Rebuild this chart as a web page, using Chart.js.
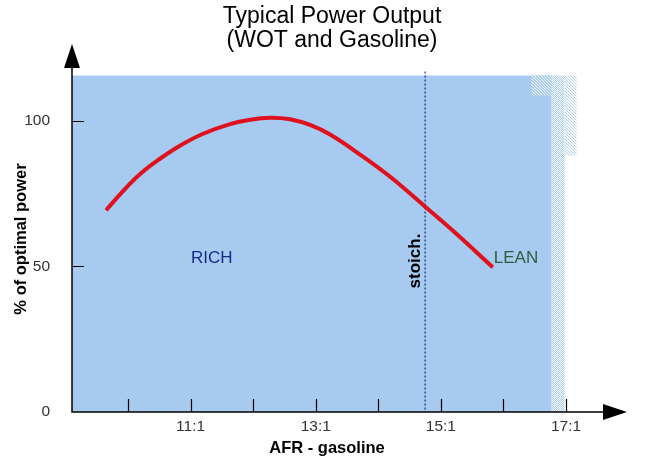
<!DOCTYPE html>
<html>
<head>
<meta charset="utf-8">
<script src="https://cdn.jsdelivr.net/npm/chart.js@4.4.1/dist/chart.umd.min.js"></script>
<style>
  html, body { margin: 0; padding: 0; background: #fff; }
  #wrap { width: 649px; height: 458px; }
</style>
</head>
<body>
<div id="wrap"><canvas id="powerChart" width="649" height="458"></canvas></div>
<script>
// ── Data ──────────────────────────────────────────────────────
const afr   = [9.65, 9.92, 10.19, 10.51, 10.83, 11.20, 11.63, 11.95, 12.27, 12.59, 12.91, 13.23, 13.75, 14.19, 14.74, 15.26, 15.83];
const power = [69.3, 75.9, 81.7, 87.0, 91.5, 95.6, 98.9, 100.4, 101.1, 100.6, 98.6, 95.3, 87.8, 80.8, 70.7, 61.0, 49.7];

const xTicks      = [10, 11, 12, 13, 14, 15, 16, 17];
const xTickLabels = ['', '11:1', '', '13:1', '', '15:1', '', '17:1'];
const yTicks      = [0, 50, 100];

const STOICH   = 14.74;
const LEAN_END = 16.77;   // end of the solid blue field
const FONT = '"Liberation Sans", Arial, sans-serif';

// ── Helpers ──────────────────────────────────────────────────
// small diagonal dither pattern: dots of c2 on c1
function dither(c1, c2, n) {
  const p = document.createElement('canvas');
  p.width = n; p.height = n;
  const g = p.getContext('2d');
  g.fillStyle = c1; g.fillRect(0, 0, n, n);
  g.fillStyle = c2;
  for (let i = 0; i < n; i++) g.fillRect(i, i, 1, 1);
  return g.createPattern(p, 'repeat');
}

// ── Background field (drawn under the curve) ──────────────────
const fieldPlugin = {
  id: 'field',
  beforeDatasetsDraw(chart) {
    const { ctx, chartArea: a, scales: { x } } = chart;
    const xe = x.getPixelForValue(LEAN_END);
    ctx.save();
    ctx.fillStyle = '#a6caf0';
    ctx.fillRect(a.left, a.top, xe - a.left, a.bottom - a.top);
    // dithered fringe at the lean end
    ctx.fillStyle = dither('#a6caf0', '#ffffff', 2);
    ctx.fillRect(xe, a.top, 13, a.bottom - a.top);
    ctx.fillStyle = dither('#ffffff', '#a6caf0', 3);
    ctx.fillRect(xe + 13, a.top, 12, 80);
    ctx.fillStyle = dither('#a6caf0', '#ffffff', 3);
    ctx.fillRect(xe - 20, a.top, 20, 20);
    // stoich. marker
    const xs = x.getPixelForValue(STOICH);
    ctx.strokeStyle = '#000066';
    ctx.lineWidth = 1;
    ctx.setLineDash([2, 2]);
    ctx.beginPath();
    ctx.moveTo(xs + 0.5, a.top - 4);
    ctx.lineTo(xs + 0.5, a.bottom);
    ctx.stroke();
    ctx.restore();
  }
};

// ── Axes, arrows, titles and labels ──────────────────────────
const decorPlugin = {
  id: 'decor',
  afterDraw(chart) {
    const { ctx, chartArea: a, scales: { x, y } } = chart;
    ctx.save();
    ctx.strokeStyle = '#000';
    ctx.fillStyle = '#000';
    ctx.lineWidth = 1.5;

    // axis lines
    ctx.beginPath();
    ctx.moveTo(a.left, 68); ctx.lineTo(a.left, a.bottom);
    ctx.lineTo(604, a.bottom);
    ctx.stroke();

    // arrow heads
    ctx.beginPath();
    ctx.moveTo(a.left - 8, 68); ctx.lineTo(a.left, 44); ctx.lineTo(a.left + 8, 68);
    ctx.closePath(); ctx.fill();
    ctx.beginPath();
    ctx.moveTo(603, a.bottom - 8); ctx.lineTo(627, a.bottom); ctx.lineTo(603, a.bottom + 8);
    ctx.closePath(); ctx.fill();

    // inside tick marks
    ctx.lineWidth = 1.2;
    ctx.beginPath();
    xTicks.forEach(v => {
      const px = Math.round(x.getPixelForValue(v)) + 0.5;
      ctx.moveTo(px, a.bottom); ctx.lineTo(px, a.bottom - 13);
    });
    yTicks.slice(1).forEach(v => {
      const py = Math.round(y.getPixelForValue(v)) + 0.5;
      ctx.moveTo(a.left, py); ctx.lineTo(a.left + 12, py);
    });
    ctx.stroke();

    // title
    ctx.textAlign = 'center';
    ctx.textBaseline = 'alphabetic';
    ctx.font = '23px ' + FONT;
    ctx.fillText('Typical Power Output', 332, 23);
    ctx.fillText('(WOT and Gasoline)', 332, 47);

    // axis titles
    ctx.font = 'bold 16.5px ' + FONT;
    ctx.fillText('AFR - gasoline', 327, 453);
    ctx.save();
    ctx.translate(26, 239);
    ctx.rotate(-Math.PI / 2);
    ctx.fillText('% of optimal power', 0, 0);
    ctx.restore();

    // region labels
    ctx.font = '17px ' + FONT;
    ctx.fillStyle = '#1a2a8c';
    ctx.fillText('RICH', x.getPixelForValue(11.34), 263);
    ctx.fillStyle = '#2e5e3e';
    ctx.fillText('LEAN', x.getPixelForValue(16.2), 263);

    ctx.fillStyle = '#000';
    ctx.font = 'bold 17px ' + FONT;
    ctx.save();
    ctx.translate(x.getPixelForValue(STOICH) - 5, 261);
    ctx.rotate(-Math.PI / 2);
    ctx.fillText('stoich.', 0, 0);
    ctx.restore();

    ctx.restore();
  }
};

// ── Chart ────────────────────────────────────────────────────
new Chart(document.getElementById('powerChart'), {
  type: 'line',
  data: {
    datasets: [{
      data: afr.map((v, i) => ({ x: v, y: power[i] })),
      borderColor: '#e0101c',
      borderWidth: 4,
      pointRadius: 0,
      tension: 0.4,
      fill: false
    }]
  },
  options: {
    responsive: false,
    animation: false,
    layout: { padding: { top: 75.5, right: 20.4, left: 0, bottom: 0 } },
    plugins: { legend: { display: false }, tooltip: { enabled: false }, title: { display: false } },
    scales: {
      x: {
        type: 'linear',
        min: 9.105,
        max: 18.0,
        grid: { display: false, drawTicks: false },
        border: { display: false },
        afterFit: s => { s.height = 46; },
        afterBuildTicks: s => { s.ticks = xTicks.map(v => ({ value: v })); },
        ticks: {
          autoSkip: false,
          maxRotation: 0,
          padding: 5,
          color: '#333',
          font: { family: FONT, size: 15.5 },
          callback: v => xTickLabels[xTicks.indexOf(v)] || ''
        }
      },
      y: {
        min: 0,
        max: 115.6,
        grid: { display: false, drawTicks: false },
        border: { display: false },
        afterFit: s => { s.width = 72; },
        afterBuildTicks: s => { s.ticks = yTicks.map(v => ({ value: v })); },
        ticks: {
          padding: 22,
          color: '#333',
          font: { family: FONT, size: 15.5 }
        }
      }
    }
  },
  plugins: [fieldPlugin, decorPlugin]
});
</script>
</body>
</html>
